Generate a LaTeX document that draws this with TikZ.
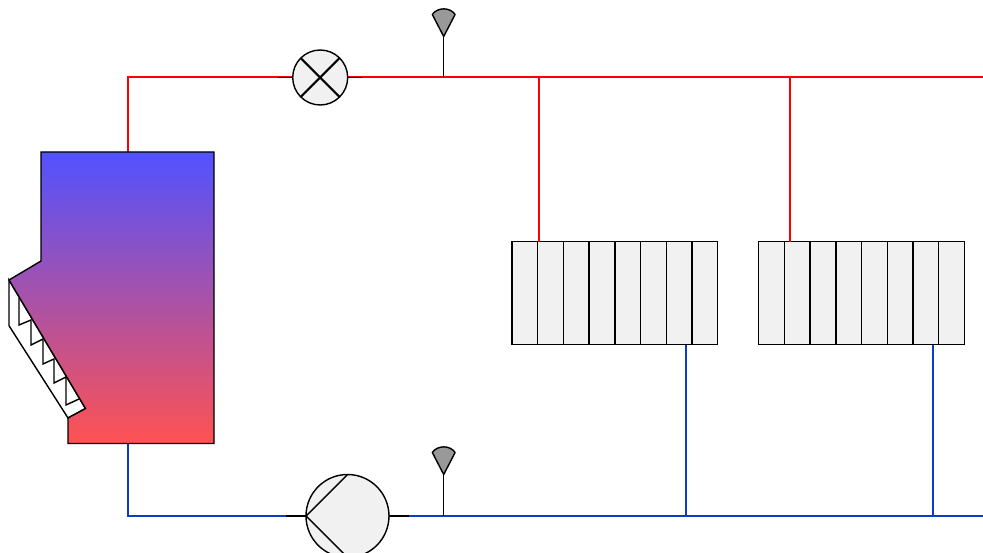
\documentclass[tikz,border=0pt]{standalone}
\usepackage{tikz}
\definecolor{coldblue}{RGB}{10,60,200}
\tikzstyle{hot}=[draw=red, line width=1.1pt]
\tikzstyle{cold}=[draw=coldblue, line width=1.1pt]
\tikzstyle{line}=[draw=black, line width=0.8pt]
\tikzstyle{part}=[line, circle, fill=black!5.5, inner sep=0pt, outer sep=0pt]
\tikzstyle{valve}=[part, minimum size=1.1cm]
\tikzstyle{pump}=[part, minimum size=1.66cm]
\tikzstyle{radiator}=[line, fill=black!5.5, inner sep=0pt, outer sep=0pt, minimum width=4.114cm, minimum height=2.06cm]
\tikzstyle{ventcap}=[line, fill=black!40]
\begin{document}
\begin{tikzpicture}[x=0.02cm, y=-0.02cm]
        \useasboundingbox (0, 0) rectangle (983, 553);
        \coordinate (BoilerT) at (128.3, 152);
        \coordinate (BoilerB) at (128.3, 443);
        \coordinate (HotC) at (128.3, 77.4);
        \coordinate (ColdC) at (128.3, 516);
        \coordinate (HotE) at (983, 77.4);
        \coordinate (ColdE) at (983, 516);
        \coordinate (HotV) at (443.7, 77.4);
        \coordinate (ColdV) at (443.7, 516);
        \coordinate (CapH) at (443.7, 36.5);
        \coordinate (CapC) at (443.7, 474.5);
        \coordinate (HotA) at (539.3, 77.4);
        \coordinate (HotB) at (790.3, 77.4);
        \coordinate (ColdA) at (685.8, 516);
        \coordinate (ColdB) at (933, 516);
        \node[radiator] (RadA) at (614.9, 293.2) {};
        \node[radiator] (RadB) at (861.5, 293.2) {};
        \draw[hot] (BoilerT) -- (HotC) -- (HotE);
        \draw[cold] (BoilerB) -- (ColdC) -- (ColdE);
        \draw[hot] (HotA) -- (HotA |- RadA.north);
        \draw[hot] (HotB) -- (HotB |- RadB.north);
        \draw[cold] (ColdA) -- (ColdA |- RadA.south);
        \draw[cold] (ColdB) -- (ColdB |- RadB.south);
        \foreach \rad in {RadA, RadB} {
            \foreach \i in {1,...,7} {
                \draw[line] ([xshift=\i*0.51425cm]\rad.north west) -- ([xshift=\i*0.51425cm]\rad.south west);
            }
        }
        \node[valve] (Valve) at (320.2, 77.5) {};
        \draw[line] (Valve.west) -- +(-14.5, 0);
        \draw[line] (Valve.east) -- +(14, 0);
        \draw[line, line width=1.2pt] (Valve.45) -- (Valve.225);
        \draw[line, line width=1.2pt] (Valve.135) -- (Valve.315);
        \node[pump] (Pump) at (347.5, 516) {};
        \draw[line] (Pump.west) -- +(-20, 0);
        \draw[line] (Pump.east) -- +(20, 0);
        \draw[line] (Pump.north) -- (Pump.west) -- (Pump.south);
        \draw[line] (HotV) -- (CapH);
        \draw[line] (ColdV) -- (CapC);
        \foreach \cap in {CapH, CapC} {
            \draw[ventcap, line join=round] (\cap) -- +(-11.4, -22) .. controls +(5, -7.5) and +(-5, -7.5) .. +(11.4, -22) -- cycle;
        }
        \draw[line, fill=white] (9, 280) -- (9, 325.7) -- (68, 418) -- (85.5, 408.5) -- cycle;
        \draw[line] (19, 298) -- (19, 325) -- (31, 320) -- (31, 345) -- (43, 339) -- (43, 364) -- (54, 359) -- (54, 383) -- (66, 377) -- (66, 405) -- (79, 399);
        \draw[line, top color=blue!68!white, bottom color=red!68!white] (41, 152) -- (214, 152) -- (214, 443.5) -- (68, 443.5) -- (68, 418) -- (85.5, 408.5) -- (9, 280) -- (41, 261) -- cycle;
    \end{tikzpicture}
\end{document}
